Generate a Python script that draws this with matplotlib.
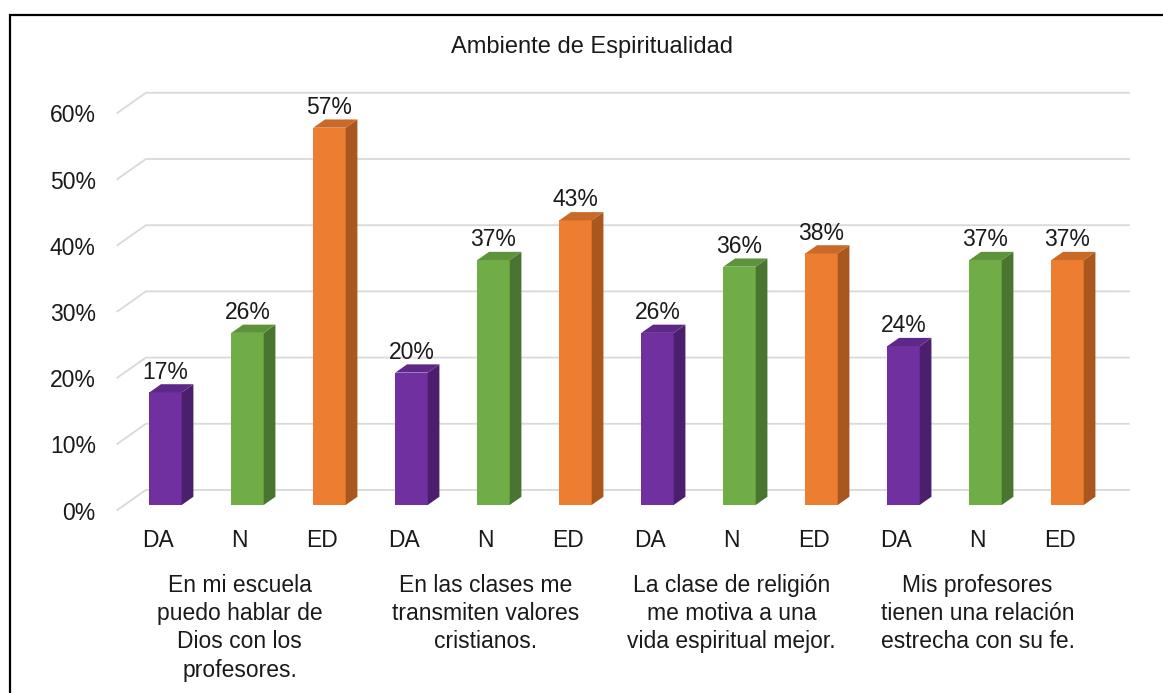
import matplotlib
matplotlib.use("Agg")
import matplotlib.pyplot as plt
from matplotlib.patches import Polygon, Rectangle
from matplotlib.ticker import FixedLocator, FuncFormatter

plt.rcParams['font.family'] = ['Liberation Sans', 'DejaVu Sans']

# ---- data -------------------------------------------------------------
chart_title = "Ambiente de Espiritualidad"
statements = [
    "En mi escuela\npuedo hablar de\nDios con los\nprofesores.",
    "En las clases me\ntransmiten valores\ncristianos.",
    "La clase de religión\nme motiva a una\nvida espiritual mejor.",
    "Mis profesores\ntienen una relación\nestrecha con su fe.",
]
responses = ["DA", "N", "ED"]
da_pct = [17, 20, 26, 24]
n_pct = [26, 37, 36, 37]
ed_pct = [57, 43, 38, 37]
y_ticks = [0, 10, 20, 30, 40, 50, 60]

# ---- styling ----------------------------------------------------------
face_colors = ["#7030A0", "#70AD47", "#ED7D31"]
side_colors = ["#4B1F6E", "#4A7530", "#A9561F"]
top_colors = ["#5E2889", "#5E933B", "#C96A28"]
grid_color = "#D9D9D9"
FS = 16.5

FIG_W, FIG_H, DPI = 11.63, 6.93, 100
fig = plt.figure(figsize=(FIG_W, FIG_H), dpi=DPI)
W_PX, H_PX = FIG_W * DPI, FIG_H * DPI

# Pseudo-3D depth: full wall depth vector in pixels (right, up)
DEPTH = (29.3, 20.6)
BAR_FRONT, BAR_BACK = 0.27, 0.67  # fractions of wall depth

n_bars = len(statements) * len(responses)
ax_rect = [0.10705, 0.2713, 0.8461, 0.5731]
ax = fig.add_axes(ax_rect, zorder=2)
ax.set_xlim(-0.5, n_bars - 0.5)
ax.set_ylim(y_ticks[0], y_ticks[-1])
ax.axis("off")

px_per_x = ax_rect[2] * W_PX / n_bars
px_per_y = ax_rect[3] * H_PX / (y_ticks[-1] - y_ticks[0])


def depth_offset(frac):
    """Offset (data units) from the bar front plane to a plane at depth frac."""
    d = frac - BAR_FRONT
    return d * DEPTH[0] / px_per_x, d * DEPTH[1] / px_per_y


fx, fy = depth_offset(0.0)
bx, by = depth_offset(1.0)
dx, dy = depth_offset(BAR_BACK)

# Front plane axes: carries the tick labels
fdx_px, fdy_px = -BAR_FRONT * DEPTH[0], -BAR_FRONT * DEPTH[1]
ax_front = fig.add_axes([ax_rect[0] + fdx_px / W_PX, ax_rect[1] + fdy_px / H_PX,
                         ax_rect[2], ax_rect[3]], zorder=1)
ax_front.set_xlim(ax.get_xlim())
ax_front.set_ylim(ax.get_ylim())
ax_front.patch.set_alpha(0)
for sp in ax_front.spines.values():
    sp.set_visible(False)
ax_front.yaxis.set_major_locator(FixedLocator(y_ticks))
ax_front.yaxis.set_major_formatter(FuncFormatter(lambda v, p: f"{v:.0f}%"))
ax_front.set_xticks(range(n_bars))
ax_front.set_xticklabels(responses * len(statements))
ax_front.tick_params(axis="y", length=0, pad=15, labelsize=FS, labelcolor="#1a1a1a")
ax_front.tick_params(axis="x", length=0, pad=13, labelsize=FS, labelcolor="#1a1a1a")

# Back wall gridlines with the slanted left side-wall segment
x0, x1 = ax.get_xlim()
for t in y_ticks:
    ax.plot([x0 + fx, x0 + bx, x1 + bx], [t + fy, t + by, t + by],
            color=grid_color, lw=1.3, zorder=1, clip_on=False,
            solid_capstyle="butt")

# Bars
bar_w = 0.395
series = [da_pct, n_pct, ed_pct]
for s, vals in enumerate(series):
    xs = [g * len(responses) + s for g in range(len(statements))]
    ax.bar(xs, vals, width=bar_w, color=face_colors[s], zorder=3, lw=0)
    for x, v in zip(xs, vals):
        l, r = x - bar_w / 2, x + bar_w / 2
        side = Polygon([(r, 0), (r + dx, dy), (r + dx, v + dy), (r, v)],
                       closed=True, fc=side_colors[s], ec="none", zorder=3,
                       clip_on=False)
        top = Polygon([(l, v), (l + dx, v + dy), (r + dx, v + dy), (r, v)],
                      closed=True, fc=top_colors[s], ec="none", zorder=3,
                      clip_on=False)
        ax.add_patch(side)
        ax.add_patch(top)
        ax.annotate(f"{v}%", (x, v), xytext=(0, 10), textcoords="offset points",
                    ha="center", va="baseline", fontsize=FS, color="#1a1a1a",
                    zorder=4, annotation_clip=False)

# Statement labels under each group of responses
for g, txt in enumerate(statements):
    ax_front.annotate(txt, (g * len(responses) + 1, 0), xytext=(0, -45.4),
                      textcoords="offset points", ha="center", va="top",
                      fontsize=FS, color="#1a1a1a", linespacing=1.3,
                      annotation_clip=False)

fig.text(592 / W_PX, 1 - 53.3 / H_PX, chart_title, ha="center", va="baseline",
         fontsize=17, color="#1a1a1a")

# Chart frame
fig.add_artist(Rectangle((9.5 / W_PX, -0.1), 1.2, 1.1 - 15 / H_PX,
                         transform=fig.transFigure, fill=False, lw=1.6,
                         ec="black"))

fig.savefig("out.png", dpi=DPI, facecolor="white")
